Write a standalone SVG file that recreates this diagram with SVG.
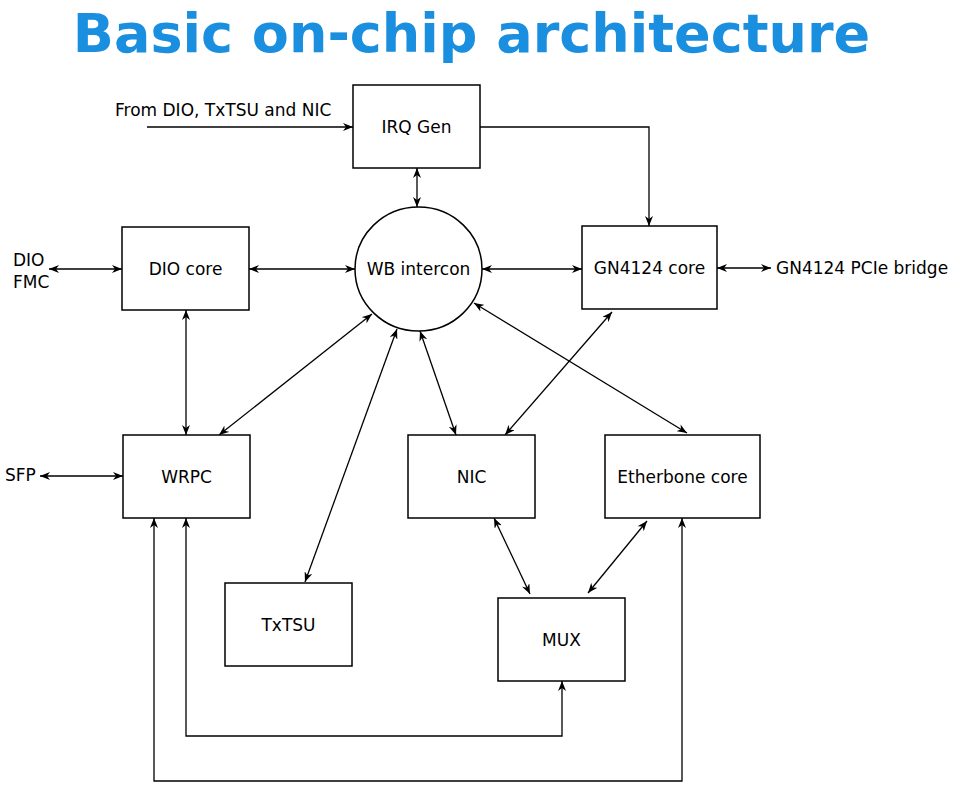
<svg xmlns="http://www.w3.org/2000/svg" width="956" height="797" viewBox="0 0 956 797">
<style>
.box{fill:#fff;stroke:#000;stroke-width:1.5}
.t{font-family:"DejaVu Sans",sans-serif;font-size:17px;fill:#000}
.c{text-anchor:middle}
.ln{fill:none;stroke:#000;stroke-width:1.3}
.a2{marker-start:url(#ah);marker-end:url(#ah)}
.a1{marker-end:url(#ah)}
</style>
<defs>
<marker id="ah" viewBox="0 0 10 8" refX="10" refY="4" markerWidth="10" markerHeight="8" markerUnits="userSpaceOnUse" orient="auto-start-reverse">
<path d="M0,0 L10,4 L0,8 L3,4 Z" fill="#000"/>
</marker>
</defs>
<rect width="956" height="797" fill="#fff"/>
<text x="471.5" y="52" text-anchor="middle" font-family="DejaVu Sans,sans-serif" font-weight="bold" font-size="54" fill="#1a8fe0">Basic on-chip architecture</text>

<g id="connectors">
<path class="ln a1" d="M147,127 L353,127"/>
<path class="ln a1" d="M480,127 L649,127 L649,226"/>
<path class="ln a2" d="M417,168 L417,207"/>
<path class="ln a2" d="M49,269 L122,269"/>
<path class="ln a2" d="M249,269 L355,269"/>
<path class="ln a2" d="M482,269 L582,269"/>
<path class="ln a2" d="M717,268 L771,268"/>
<path class="ln a2" d="M186,310 L186,435"/>
<path class="ln a2" d="M372,314 L219,435"/>
<path class="ln a2" d="M397,329 L305,582"/>
<path class="ln a2" d="M420,331 L456,435"/>
<path class="ln a2" d="M612,312 L505,435"/>
<path class="ln a2" d="M474,303 L687,433"/>
<path class="ln a2" d="M40,476 L123,476"/>
<path class="ln a2" d="M494,518 L530,594"/>
<path class="ln a2" d="M647,521 L588,593"/>
<path class="ln a2" d="M186,518 L186,736 L562,736 L562,681"/>
<path class="ln a2" d="M154,518 L154,781 L682,781 L682,518"/>
</g>

<g id="irq"><rect class="box" x="353" y="85" width="127" height="83"/><text class="t c" x="416.5" y="133">IRQ Gen</text></g>
<g id="dio"><rect class="box" x="122" y="227" width="127" height="83"/><text class="t c" x="185.5" y="275">DIO core</text></g>
<g id="wb"><ellipse class="box" cx="418.5" cy="269" rx="63.5" ry="62"/><text class="t c" x="418.5" y="275">WB intercon</text></g>
<g id="gn"><rect class="box" x="582" y="226" width="135" height="83"/><text class="t c" x="649.5" y="274">GN4124 core</text></g>
<g id="wrpc"><rect class="box" x="123" y="435" width="127" height="83"/><text class="t c" x="186.5" y="483">WRPC</text></g>
<g id="nic"><rect class="box" x="408" y="435" width="127" height="83"/><text class="t c" x="471.5" y="483">NIC</text></g>
<g id="eb"><rect class="box" x="605" y="435" width="155" height="83"/><text class="t c" x="682.5" y="483">Etherbone core</text></g>
<g id="txtsu"><rect class="box" x="225" y="583" width="127" height="83"/><text class="t c" x="288.5" y="631">TxTSU</text></g>
<g id="mux"><rect class="box" x="498" y="598" width="127" height="83"/><text class="t c" x="561.5" y="646">MUX</text></g>

<g id="labels">
<text class="t" x="115" y="116">From DIO, TxTSU and NIC</text>
<text class="t" x="13" y="266">DIO</text>
<text class="t" x="13" y="288">FMC</text>
<text class="t" x="5" y="481">SFP</text>
<text class="t" x="776" y="274">GN4124 PCIe bridge</text>
</g>
</svg>
